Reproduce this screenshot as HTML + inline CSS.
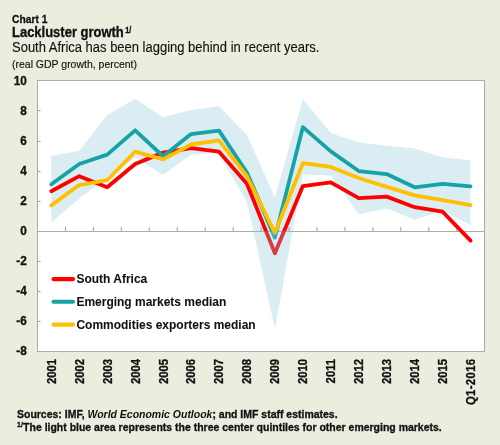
<!DOCTYPE html>
<html><head><meta charset="utf-8"><style>
html,body{margin:0;padding:0;background:#EAEEDE;}
body{width:500px;height:445px;overflow:hidden;position:relative;}
svg{position:absolute;left:0;top:0;will-change:transform;}
</style></head><body>
<svg width="500" height="445" viewBox="0 0 500 445">
<defs>
<clipPath id="above"><rect x="38" y="81" width="446" height="150"/></clipPath>
<clipPath id="below"><rect x="38" y="231" width="446" height="120"/></clipPath>
</defs>
<rect x="37.5" y="80.5" width="447" height="271" fill="#fff" stroke="#ABABAB" stroke-width="1"/>
<polygon points="51.30,155.95 79.25,150.83 107.20,115.26 135.15,98.99 163.10,117.37 191.05,109.99 219.00,106.22 246.95,135.15 274.90,197.39 302.85,99.29 330.80,133.04 358.75,142.39 386.70,145.85 414.65,148.42 442.60,157.61 470.55,160.32 470.55,224.97 442.60,210.96 414.65,219.85 386.70,208.54 358.75,214.27 330.80,175.54 302.85,174.49 274.90,328.65 246.95,201.91 219.00,152.63 191.05,154.74 163.10,174.79 135.15,157.46 107.20,178.56 79.25,198.15 51.30,222.56" fill="#D9EDF3" clip-path="url(#above)"/>
<g stroke="#A2A2A6" stroke-width="1"><line x1="65.45" x2="65.45" y1="227" y2="231"/><line x1="93.40" x2="93.40" y1="227" y2="231"/><line x1="121.35" x2="121.35" y1="227" y2="231"/><line x1="149.30" x2="149.30" y1="227" y2="231"/><line x1="177.25" x2="177.25" y1="227" y2="231"/><line x1="205.20" x2="205.20" y1="227" y2="231"/><line x1="233.15" x2="233.15" y1="227" y2="231"/><line x1="261.10" x2="261.10" y1="227" y2="231"/><line x1="289.05" x2="289.05" y1="227" y2="231"/><line x1="317.00" x2="317.00" y1="227" y2="231"/><line x1="344.95" x2="344.95" y1="227" y2="231"/><line x1="372.90" x2="372.90" y1="227" y2="231"/><line x1="400.85" x2="400.85" y1="227" y2="231"/><line x1="428.80" x2="428.80" y1="227" y2="231"/><line x1="456.75" x2="456.75" y1="227" y2="231"/><line x1="38" x2="40.6" y1="110.5" y2="110.5"/><line x1="38" x2="40.6" y1="141.5" y2="141.5"/><line x1="38" x2="40.6" y1="171.5" y2="171.5"/><line x1="38" x2="40.6" y1="201.5" y2="201.5"/><line x1="38" x2="40.6" y1="261.5" y2="261.5"/><line x1="38" x2="40.6" y1="291.5" y2="291.5"/><line x1="38" x2="40.6" y1="321.5" y2="321.5"/></g>
<line x1="38" x2="484" y1="231.5" y2="231.5" stroke="#ABABAB" stroke-width="1"/>
<g fill="none" stroke-width="3.8" stroke-linejoin="round" stroke-linecap="round">
<polyline points="51.30,191.21 79.25,176.14 107.20,187.30 135.15,163.94 163.10,152.63 191.05,148.11 219.00,151.73 246.95,183.68 274.90,253.30 302.85,186.09 330.80,182.32 358.75,198.15 386.70,196.64 414.65,207.19 442.60,211.71 470.55,240.64" stroke="#FF0000"/>
<polyline points="51.30,184.28 79.25,163.94 107.20,154.59 135.15,130.33 163.10,156.25 191.05,134.10 219.00,130.63 246.95,172.53 274.90,237.63 302.85,127.17 330.80,151.43 358.75,171.02 386.70,174.03 414.65,187.30 442.60,183.98 470.55,186.39" stroke="#17A2A5"/>
<polyline points="51.30,205.38 79.25,185.04 107.20,180.21 135.15,151.58 163.10,159.42 191.05,144.50 219.00,140.43 246.95,176.29 274.90,232.81 302.85,163.18 330.80,166.95 358.75,177.95 386.70,186.84 414.65,195.43 442.60,200.11 470.55,205.23" stroke="#FFC000"/>
</g>
<polygon points="51.30,155.95 79.25,150.83 107.20,115.26 135.15,98.99 163.10,117.37 191.05,109.99 219.00,106.22 246.95,135.15 274.90,197.39 302.85,99.29 330.80,133.04 358.75,142.39 386.70,145.85 414.65,148.42 442.60,157.61 470.55,160.32 470.55,224.97 442.60,210.96 414.65,219.85 386.70,208.54 358.75,214.27 330.80,175.54 302.85,174.49 274.90,328.65 246.95,201.91 219.00,152.63 191.05,154.74 163.10,174.79 135.15,157.46 107.20,178.56 79.25,198.15 51.30,222.56" fill="#80C3D8" fill-opacity="0.3" clip-path="url(#below)"/>
<g stroke-width="4.1" stroke-linecap="round">
<line x1="53.5" x2="73" y1="279.1" y2="279.1" stroke="#FF0000"/>
<line x1="53.5" x2="73" y1="301.7" y2="301.7" stroke="#17A2A5"/>
<line x1="53.5" x2="73" y1="324.6" y2="324.6" stroke="#FFC000"/>
</g>
<g font-family="Liberation Sans" fill="#111" stroke="#111" stroke-width="0.3">
<text transform="translate(26.80,84.90) scale(1,1.05)" font-size="11.8" font-weight="bold" text-anchor="end" >10</text>
<text transform="translate(26.80,114.93) scale(1,1.05)" font-size="11.8" font-weight="bold" text-anchor="end" >8</text>
<text transform="translate(26.80,144.96) scale(1,1.05)" font-size="11.8" font-weight="bold" text-anchor="end" >6</text>
<text transform="translate(26.80,174.99) scale(1,1.05)" font-size="11.8" font-weight="bold" text-anchor="end" >4</text>
<text transform="translate(26.80,205.02) scale(1,1.05)" font-size="11.8" font-weight="bold" text-anchor="end" >2</text>
<text transform="translate(26.80,235.05) scale(1,1.05)" font-size="11.8" font-weight="bold" text-anchor="end" >0</text>
<text transform="translate(26.80,265.08) scale(1,1.05)" font-size="11.8" font-weight="bold" text-anchor="end" >-2</text>
<text transform="translate(26.80,295.11) scale(1,1.05)" font-size="11.8" font-weight="bold" text-anchor="end" >-4</text>
<text transform="translate(26.80,325.14) scale(1,1.05)" font-size="11.8" font-weight="bold" text-anchor="end" >-6</text>
<text transform="translate(26.80,355.17) scale(1,1.05)" font-size="11.8" font-weight="bold" text-anchor="end" >-8</text>
<text transform="translate(55.70,358.90) rotate(-90) scale(1,1.1)" font-size="11.3" font-weight="bold" text-anchor="end" >2001</text>
<text transform="translate(83.65,358.90) rotate(-90) scale(1,1.1)" font-size="11.3" font-weight="bold" text-anchor="end" >2002</text>
<text transform="translate(111.60,358.90) rotate(-90) scale(1,1.1)" font-size="11.3" font-weight="bold" text-anchor="end" >2003</text>
<text transform="translate(139.55,358.90) rotate(-90) scale(1,1.1)" font-size="11.3" font-weight="bold" text-anchor="end" >2004</text>
<text transform="translate(167.50,358.90) rotate(-90) scale(1,1.1)" font-size="11.3" font-weight="bold" text-anchor="end" >2005</text>
<text transform="translate(195.45,358.90) rotate(-90) scale(1,1.1)" font-size="11.3" font-weight="bold" text-anchor="end" >2006</text>
<text transform="translate(223.40,358.90) rotate(-90) scale(1,1.1)" font-size="11.3" font-weight="bold" text-anchor="end" >2007</text>
<text transform="translate(251.35,358.90) rotate(-90) scale(1,1.1)" font-size="11.3" font-weight="bold" text-anchor="end" >2008</text>
<text transform="translate(279.30,358.90) rotate(-90) scale(1,1.1)" font-size="11.3" font-weight="bold" text-anchor="end" >2009</text>
<text transform="translate(307.25,358.90) rotate(-90) scale(1,1.1)" font-size="11.3" font-weight="bold" text-anchor="end" >2010</text>
<text transform="translate(335.20,358.90) rotate(-90) scale(1,1.1)" font-size="11.3" font-weight="bold" text-anchor="end" >2011</text>
<text transform="translate(363.15,358.90) rotate(-90) scale(1,1.1)" font-size="11.3" font-weight="bold" text-anchor="end" >2012</text>
<text transform="translate(391.10,358.90) rotate(-90) scale(1,1.1)" font-size="11.3" font-weight="bold" text-anchor="end" >2013</text>
<text transform="translate(419.05,358.90) rotate(-90) scale(1,1.1)" font-size="11.3" font-weight="bold" text-anchor="end" >2014</text>
<text transform="translate(447.00,358.90) rotate(-90) scale(1,1.1)" font-size="11.3" font-weight="bold" text-anchor="end" >2015</text>
<text transform="translate(474.95,358.90) rotate(-90) scale(1,1.1)" font-size="11.3" font-weight="bold" text-anchor="end" textLength="46.2" lengthAdjust="spacing">Q1-2016</text>
<text transform="translate(76.40,282.70) scale(1,1.03)" font-size="12" font-weight="bold" text-anchor="start" stroke-width="0.05">South Africa</text>
<text transform="translate(76.40,305.60) scale(1,1.03)" font-size="12" font-weight="bold" text-anchor="start" stroke-width="0.05">Emerging markets median</text>
<text transform="translate(76.40,328.50) scale(1,1.03)" font-size="12" font-weight="bold" text-anchor="start" stroke-width="0.05">Commodities exporters median</text>
<text transform="translate(12.00,22.60) scale(1,1.08)" font-size="10.3" font-weight="bold" text-anchor="start" >Chart 1</text>
<text transform="translate(12.00,36.70) scale(1,1.06)" font-size="13" font-weight="bold" text-anchor="start" >Lackluster growth</text>
<text transform="translate(125.20,32.60) scale(1,1.12)" font-size="7.3" font-weight="bold" text-anchor="start" >1/</text>
<text transform="translate(12.00,52.10) scale(1,1.06)" font-size="13" font-weight="normal" text-anchor="start" stroke-width="0.12">South Africa has been lagging behind in recent years.</text>
<text transform="translate(12.00,67.80) scale(1,1.1)" font-size="10.5" font-weight="normal" text-anchor="start" stroke-width="0.15">(real GDP growth, percent)</text>
<text transform="translate(17.00,417.70) scale(1,1.06)" font-size="10.5" font-weight="bold" text-anchor="start" >Sources: IMF, <tspan font-style="italic" stroke-width="0">World Economic Outlook</tspan>; and IMF staff estimates.</text>
<text transform="translate(17.10,426.70) scale(1,1.07)" font-size="7" font-weight="bold" text-anchor="start" >1/</text>
<text transform="translate(23.10,430.90) scale(1,1.06)" font-size="10.5" font-weight="bold" text-anchor="start" >The light blue area represents the three center quintiles for other emerging markets.</text>
</g>
</svg>
</body></html>
